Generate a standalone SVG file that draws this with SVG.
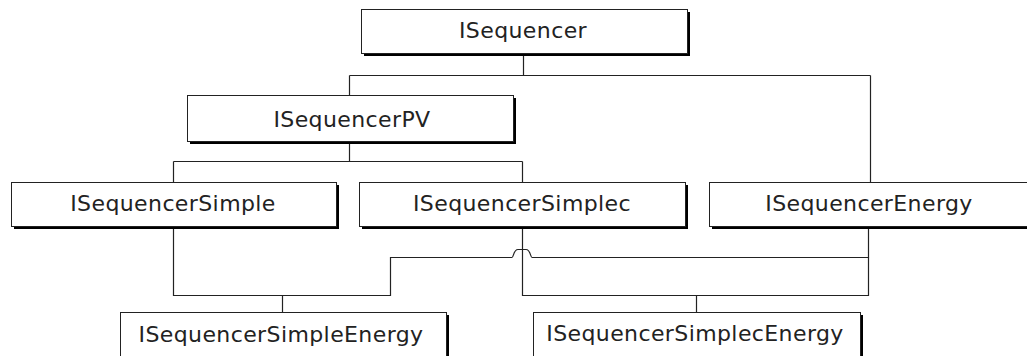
<svg xmlns="http://www.w3.org/2000/svg" width="1027" height="356" viewBox="0 0 1027 356">
<style>
.shadow{fill:#000}
.box{fill:#fff;stroke:#222;stroke-width:1}
.lbl{font-family:"DejaVu Sans",sans-serif;font-size:22px;fill:#222;text-anchor:middle;letter-spacing:0.4px}
.conn{fill:none;stroke:#222;stroke-width:1.2}
</style>
<rect width="1027" height="356" fill="#fff"/>
<g id="connectors">
<path class="conn" d="M523.5,53 V75.5 M349.5,75.5 H870.5 M349.5,75.5 V95"/>
<path class="conn" d="M870.5,75.5 V182"/>
<path class="conn" d="M349.5,141 V161.5 M173.5,161.5 H522.5 M173.5,161.5 V182 M522.5,161.5 V182"/>
<path class="conn" d="M173.5,226 V295.5 H390.5 V257.5 H512 C513.5,257.5 513.5,249.5 518,249.5 H526 C530.5,249.5 530.5,257.5 532,257.5 H868.5 V226"/>
<path class="conn" d="M282.5,295.5 V312"/>
<path class="conn" d="M522.5,226 V295.5 H868.5 V257.5"/>
<path class="conn" d="M696.5,295.5 V312"/>
</g>
<g id="n_isequencer">
<rect class="shadow" x="364" y="12" width="326" height="44"/>
<rect class="box" x="361.5" y="9.5" width="326" height="44"/>
<text class="lbl" x="523" y="37.5">ISequencer</text>
</g>
<g id="n_isequencerpv">
<rect class="shadow" x="190" y="98" width="326" height="46"/>
<rect class="box" x="187.5" y="95.5" width="326" height="46"/>
<text class="lbl" x="352" y="126.5">ISequencerPV</text>
</g>
<g id="n_simple">
<rect class="shadow" x="14" y="185" width="325" height="44"/>
<rect class="box" x="11.5" y="182.5" width="325" height="44"/>
<text class="lbl" x="173" y="211">ISequencerSimple</text>
</g>
<g id="n_simplec">
<rect class="shadow" x="362" y="185" width="326" height="44"/>
<rect class="box" x="359.5" y="182.5" width="326" height="44"/>
<text class="lbl" x="522" y="211">ISequencerSimplec</text>
</g>
<g id="n_energy">
<rect class="shadow" x="712" y="185" width="330" height="44"/>
<rect class="box" x="709.5" y="182.5" width="330" height="44"/>
<text class="lbl" x="869" y="211">ISequencerEnergy</text>
</g>
<g id="n_simpleenergy">
<rect class="shadow" x="123" y="315" width="326" height="50"/>
<rect class="box" x="120.5" y="312.5" width="326" height="50"/>
<text class="lbl" x="281" y="341.5">ISequencerSimpleEnergy</text>
</g>
<g id="n_simplecenergy">
<rect class="shadow" x="536" y="315" width="327" height="50"/>
<rect class="box" x="533.5" y="312.5" width="327" height="50"/>
<text class="lbl" x="695" y="341">ISequencerSimplecEnergy</text>
</g>
</svg>
